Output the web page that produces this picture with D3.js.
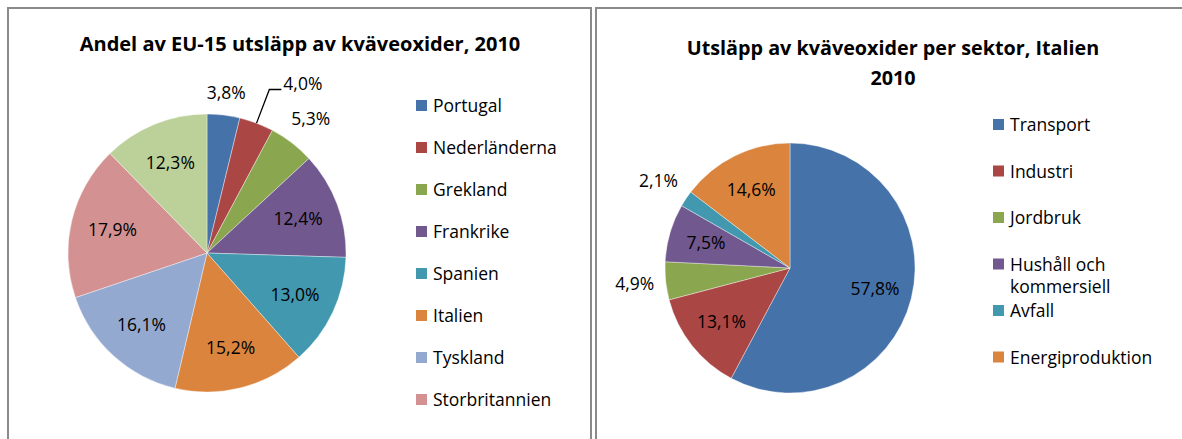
<!DOCTYPE html>
<html>
<head>
<meta charset="utf-8">
<script src="https://cdn.jsdelivr.net/npm/d3@7"></script>
<style>
  body { margin: 0; background: #fff; }
  svg { display: block; }
  text { font-family: "Open Sans", "Noto Sans", sans-serif; fill: #000; }
</style>
</head>
<body>
<div id="chart"></div>
<script>
// Left chart: share of EU-15 NOx emissions, 2010
const euCountries = ['Portugal', 'Nederländerna', 'Grekland', 'Frankrike', 'Spanien', 'Italien', 'Tyskland', 'Storbritannien', 'Övriga'];
const euShares = [3.8, 4.0, 5.3, 12.4, 13.0, 15.2, 16.1, 17.9, 12.3];

// Right chart: Italy NOx emissions by sector, 2010
const itSectors = ['Transport', 'Industri', 'Jordbruk', 'Hushåll och kommersiell', 'Avfall', 'Energiproduktion'];
const itShares = [57.8, 13.1, 4.9, 7.5, 2.1, 14.6];

const palette = ['#4672aa', '#aa4644', '#8aa64e', '#71588f', '#4198af', '#db843d', '#94a9d0', '#d39291', '#bcd09a'];

const W = 1182, H = 439;
const FS = '17.5px';

const svg = d3.select('#chart').append('svg')
    .attr('width', W)
    .attr('height', H);

// panel frames
const drawFrame = (x, w) => {
    svg.append('rect')
        .attr('x', x).attr('y', 8)
        .attr('width', w).attr('height', H)
        .attr('fill', 'none')
        .attr('stroke', '#8a8a8a')
        .attr('stroke-width', 2);
};
drawFrame(8, 583);
drawFrame(596, 600);

const fmt = v => d3.format('.1f')(v).replace('.', ',') + '%';

// Pie with labels and legend
const drawPie = (opts) => {
    const { labels, values, cx, cy, r, legendX, legendY, legendStep, callout } = opts;
    const g = svg.append('g').attr('transform', `translate(${cx},${cy})`);

    const pie = d3.pie().sort(null).value(d => d)(values);
    const arc = d3.arc().innerRadius(0).outerRadius(r);

    g.selectAll('path')
        .data(pie)
        .enter()
        .append('path')
        .attr('d', arc)
        .attr('fill', (d, i) => palette[i])
        .attr('stroke', 'rgba(255,255,255,0.55)')
        .attr('stroke-width', 0.7);

    // data labels: small slices go outside, the rest inside
    pie.forEach((d, i) => {
        const a = (d.startAngle + d.endAngle) / 2;
        const s = Math.sin(a), c = -Math.cos(a);
        const txt = fmt(values[i]);
        if (callout === i) {
            const p0 = [r * s, r * c];
            const p1 = [(r + 36) * s, (r + 36) * c];
            const p2 = [p1[0] + 12, p1[1]];
            g.append('path')
                .attr('d', d3.line()([p0, p1, p2]))
                .attr('fill', 'none')
                .attr('stroke', '#000')
                .attr('stroke-width', 1.3);
            g.append('text')
                .attr('x', p2[0] + 2).attr('y', p2[1] - 6)
                .attr('dy', '0.35em')
                .style('font-size', FS)
                .text(txt);
        } else if (values[i] < 6) {
            const dist = r + 8 + Math.abs(s) * 22 + Math.abs(c) * 12;
            g.append('text')
                .attr('x', dist * s).attr('y', dist * c)
                .attr('dy', '0.35em')
                .attr('text-anchor', 'middle')
                .style('font-size', FS)
                .text(txt);
        } else {
            const dist = r * 0.7;
            g.append('text')
                .attr('x', dist * s).attr('y', dist * c)
                .attr('dy', '0.35em')
                .attr('text-anchor', 'middle')
                .style('font-size', FS)
                .text(txt);
        }
    });

    // legend (rows below the panel edge are clipped away, as in the original)
    const lg = svg.append('g');
    labels.forEach((name, i) => {
        const y = legendY + i * legendStep;
        if (y > H - 8) return;
        lg.append('rect')
            .attr('x', legendX).attr('y', y - 6)
            .attr('width', 11).attr('height', 11)
            .attr('fill', palette[i]);
        const t = lg.append('text')
            .attr('x', legendX + 17).attr('y', y)
            .attr('dy', '0.35em')
            .style('font-size', FS);
        const words = name.split(' ');
        if (words.length > 2) {
            t.append('tspan').text(words.slice(0, 2).join(' '));
            t.append('tspan').attr('x', legendX + 17).attr('dy', 22).text(words.slice(2).join(' '));
        } else {
            t.text(name);
        }
    });
};

// titles, sized so the first line spans the same width as the original
const drawTitle = (lines, cx, y0, lineH, width) => {
    const nodes = lines.map((line, i) => svg.append('text')
        .attr('x', cx).attr('y', y0 + i * lineH)
        .attr('text-anchor', 'middle')
        .attr('dy', '0.35em')
        .style('font-size', '18px')
        .style('font-weight', 'bold')
        .text(line));
    const w0 = nodes[0].node().getComputedTextLength();
    const size = Math.min(20, 18 * width / w0);
    nodes.forEach(n => n.style('font-size', size + 'px'));
};

drawTitle(['Andel av EU-15 utsläpp av kväveoxider, 2010'], 300, 44, 0, 445);
drawTitle(['Utsläpp av kväveoxider per sektor, Italien', '2010'], 893, 48, 30, 413);

drawPie({
    labels: euCountries, values: euShares,
    cx: 207, cy: 253, r: 139,
    legendX: 416, legendY: 106, legendStep: 42,
    callout: 1
});

drawPie({
    labels: itSectors, values: itShares,
    cx: 790, cy: 268, r: 125,
    legendX: 993, legendY: 125, legendStep: 46.5,
    callout: -1
});
</script>
</body>
</html>
